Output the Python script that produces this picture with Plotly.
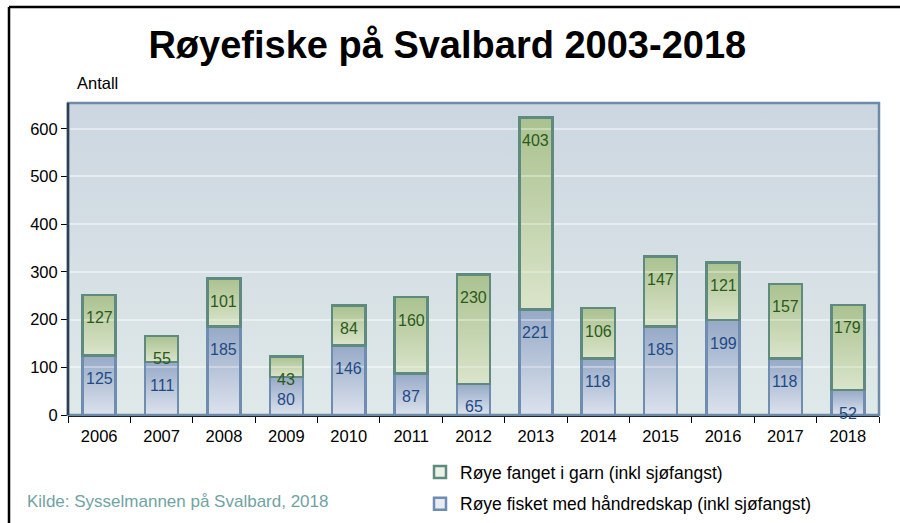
import plotly.graph_objects as go
import base64

years = ["2006", "2007", "2008", "2009", "2010", "2011", "2012", "2013", "2014", "2015", "2016", "2017", "2018"]
hand = [125, 111, 185, 80, 146, 87, 65, 221, 118, 185, 199, 118, 52]
garn = [127, 55, 101, 43, 84, 160, 230, 403, 106, 147, 121, 157, 179]
name_hand = "Røye fisket med håndredskap (inkl sjøfangst)"
name_garn = "Røye fanget i garn (inkl sjøfangst)"
y_ticks = [0, 100, 200, 300, 400, 500, 600]

W, H = 900, 523
L, R, T, B = 68, 21, 103, 108
pw, ph = W - L - R, H - T - B
FONT = "Liberation Sans, Arial"
BARW = 0.53


def px_x(p):
    return (p - L) / pw


def px_y(p):
    return (H - B - p) / ph


def grad_src(top, bottom):
    svg = ('<svg xmlns="http://www.w3.org/2000/svg" width="100" height="100" preserveAspectRatio="none">'
           '<defs><linearGradient id="g" x1="0" y1="0" x2="0" y2="1">'
           f'<stop offset="0" stop-color="{top}"/><stop offset="1" stop-color="{bottom}"/>'
           '</linearGradient></defs><rect width="100" height="100" fill="url(#g)"/></svg>')
    return "data:image/svg+xml;base64," + base64.b64encode(svg.encode()).decode()


fig = go.Figure()
fig.add_trace(go.Bar(
    x=years, y=hand, name=name_hand, legendgroup="a", legendrank=2,
    marker=dict(color="rgba(160,178,206,0.25)", line=dict(color="#6f8db0", width=2.5)),
))
fig.add_trace(go.Bar(
    x=years, y=garn, name=name_garn, legendgroup="b", legendrank=1,
    marker=dict(color="rgba(176,198,148,0.25)", line=dict(color="#5f8a80", width=2.5)),
))

# gradient fills for each bar segment, positioned in data coordinates
blue_src = grad_src("#93a6c3", "#f0f2f7")
green_src = grad_src("#a9c08e", "#e9eedd")
for i, (h, g) in enumerate(zip(hand, garn)):
    fig.add_layout_image(dict(source=blue_src, xref="x", yref="y", x=i - BARW / 2, y=h,
                              sizex=BARW, sizey=h, sizing="stretch", layer="below",
                              xanchor="left", yanchor="top"))
    fig.add_layout_image(dict(source=green_src, xref="x", yref="y", x=i - BARW / 2, y=h + g,
                              sizex=BARW, sizey=g, sizing="stretch", layer="below",
                              xanchor="left", yanchor="top"))

# value labels (category index positions)
for i, (h, g) in enumerate(zip(hand, garn)):
    fig.add_annotation(x=i, y=h, text=str(h), showarrow=False, yshift=-23,
                       font=dict(size=16, color="#1f4a86", family=FONT))
    fig.add_annotation(x=i, y=h + g, text=str(g), showarrow=False, yshift=-23,
                       font=dict(size=16, color="#2b5a18", family=FONT))

# background gradient for plot area
fig.add_layout_image(dict(source=grad_src("#cbd6e1", "#dfe9e8"), xref="paper", yref="paper",
                          x=0, y=1, sizex=1, sizey=1, sizing="stretch", layer="below",
                          xanchor="left", yanchor="top"))
fig.layout.images = (fig.layout.images[-1],) + tuple(fig.layout.images[:-1])

# plot border (top/right steel blue)
fig.add_shape(type="rect", xref="paper", yref="paper", x0=0, x1=1, y0=0, y1=1,
              line=dict(color="#6d8aa8", width=2.5), layer="above")
# left axis dark line
fig.add_shape(type="line", xref="paper", yref="paper", x0=0, x1=0, y0=0, y1=1,
              line=dict(color="#2e3f52", width=2.5), layer="above")
# outer frame lines
fig.add_shape(type="line", xref="paper", yref="paper", x0=px_x(9), x1=px_x(900), y0=px_y(7), y1=px_y(7),
              line=dict(color="#000000", width=2.5))
fig.add_shape(type="line", xref="paper", yref="paper", x0=px_x(9), x1=px_x(9), y0=px_y(7), y1=px_y(523),
              line=dict(color="#000000", width=2.5))

fig.add_annotation(text="Antall", xref="paper", yref="paper", x=px_x(75), y=px_y(83),
                   xanchor="left", yanchor="middle", showarrow=False,
                   font=dict(size=16.5, color="#000000", family=FONT))
fig.add_annotation(text="Kilde: Sysselmannen på Svalbard, 2018", xref="paper", yref="paper",
                   x=px_x(25), y=px_y(502), xanchor="left", yanchor="middle", showarrow=False,
                   font=dict(size=17, color="#6fa3a3", family=FONT))

fig.update_layout(
    width=W, height=H,
    margin=dict(l=L, r=R, t=T, b=B, autoexpand=False),
    paper_bgcolor="white", plot_bgcolor="rgba(0,0,0,0)",
    barmode="stack", bargap=1 - BARW,
    title=dict(text="<b>Røyefiske på Svalbard 2003-2018</b>", x=0.497, xanchor="center",
               y=1 - 45 / H, yanchor="middle",
               font=dict(size=38, color="#000000", family=FONT)),
    font=dict(family=FONT, color="#000000"),
    showlegend=True,
    legend=dict(x=px_x(420), y=px_y(454), xanchor="left", yanchor="top",
                traceorder="grouped", tracegroupgap=6,
                font=dict(size=17.5, color="#000000"), bgcolor="rgba(0,0,0,0)",
                itemwidth=30),
    xaxis=dict(type="category", range=[-0.5, len(years) - 0.5], showgrid=False,
               ticks="outside", ticklen=6, tickcolor="#000000", tickangle=0,
               tickson="boundaries", showline=True, linecolor="#000000", linewidth=1.5,
               tickfont=dict(size=16.5), automargin=False, ticklabelstandoff=5),
    yaxis=dict(range=[0, 654], tickvals=y_ticks, showgrid=True, gridcolor="rgba(255,255,255,0.45)",
               gridwidth=1.5, ticks="outside", ticklen=6, tickcolor="#000000",
               zeroline=False, showline=False, tickfont=dict(size=16.5), automargin=False),
)

fig.write_html("out.html", config={"displayModeBar": False},
               post_script="document.body.style.margin='0';document.body.style.overflow='hidden';")
